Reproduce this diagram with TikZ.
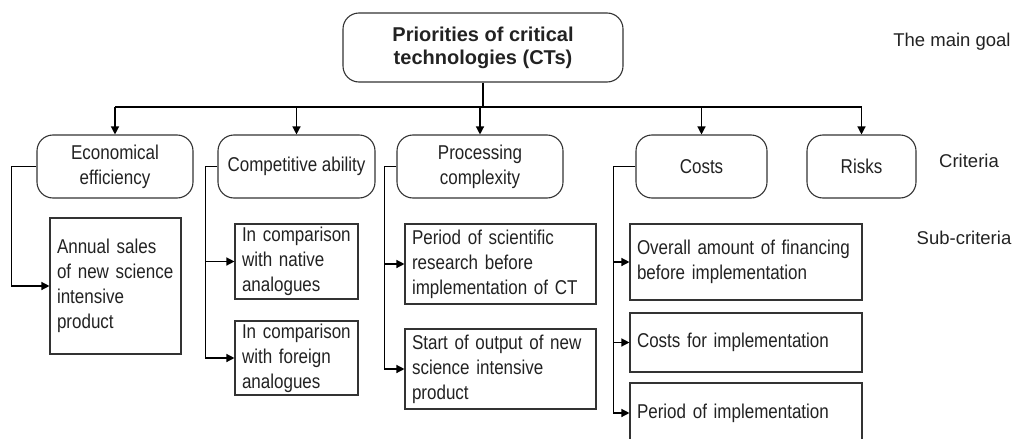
\documentclass[tikz,border=0pt]{standalone}
\usepackage{fontspec}
\setmainfont{Liberation Sans}[FakeStretch=0.85]
\newfontfamily\plainsans{Liberation Sans}
\usetikzlibrary{arrows.meta}
\definecolor{ink}{HTML}{222222}
\definecolor{edge}{HTML}{333333}
\tikzset{
  crit/.style={draw=edge, line width=1.1pt, rounded corners=16pt, align=center,
    text=ink, font=\fontsize{20}{25}\selectfont, inner sep=0pt, minimum height=63pt},
  goalbox/.style={crit, font=\plainsans\bfseries\fontsize{20}{23}\selectfont},
  subbox/.style={draw=edge, line width=1.1pt, align=left, text=ink,
    font=\fontsize{20}{25}\selectfont, inner xsep=7pt, inner ysep=0pt},
  levellabel/.style={text=ink, font=\plainsans\fontsize{18.5}{22}\selectfont, inner sep=0pt},
  conn/.style={draw=black, line width=1.3pt},
  arr/.style={conn, -{Triangle[length=8pt,width=8pt]}}
}
\begin{document}
\begin{tikzpicture}[x=1pt,y=-1pt]
\useasboundingbox (0,0) rectangle (1018,439);
\clip (0,0) rectangle (1018,439);

% main goal and criteria
\node[goalbox, minimum width=280pt, minimum height=69pt] (goal) at (483,47.5)
  {Priorities of critical\\technologies (CTs)};
\node[crit, minimum width=156pt] (eco) at (115,166.5) {Economical\\efficiency};
\node[crit, minimum width=157pt] (comp) at (296.5,166.5) {Competitive ability};
\node[crit, minimum width=166pt] (proc) at (480,166.5) {Processing\\complexity};
\node[crit, minimum width=131pt] (costs) at (701.5,166.5) {Costs};
\node[crit, minimum width=109pt] (risks) at (861.5,166.5) {Risks};

% level labels
\node[levellabel] (lgoal) at (952,42) {The main goal};
\node[levellabel] (lcrit) at (969,161) {Criteria};
\node[levellabel] (lsub) at (964,238) {Sub-criteria};

% sub-criteria
\node[subbox, minimum width=131pt, minimum height=136pt, text width=117pt] (annual) at (115.5,286)
  {Annual sales\\of new science\\intensive\\product};
\node[subbox, minimum width=123pt, minimum height=75pt, text width=109pt] (native) at (296.5,261.5)
  {In comparison\\with native\\analogues};
\node[subbox, minimum width=123pt, minimum height=74pt, text width=109pt] (foreign) at (296.5,358)
  {In comparison\\with foreign\\analogues};
\node[subbox, minimum width=191pt, minimum height=80pt, text width=177pt] (period) at (500.5,264)
  {Period of scientific\\research before\\implementation of CT};
\node[subbox, minimum width=191pt, minimum height=80pt, text width=177pt] (start) at (500.5,369)
  {Start of output of new\\science intensive\\product};
\node[subbox, minimum width=232pt, minimum height=76pt, text width=218pt] (overall) at (746,262)
  {Overall amount of financing\\before implementation};
\node[subbox, minimum width=232pt, minimum height=59pt, text width=218pt] (costimp) at (746,342.5)
  {Costs for implementation};
\node[subbox, minimum width=232pt, minimum height=60pt, text width=218pt] (periodimp) at (746,413)
  {Period of implementation};

% bus from the goal to the criteria
\coordinate (bus) at (0,107);
\draw[conn] (goal.south) -- (goal.south |- bus);
\draw[conn] (eco.north |- bus) -- (risks.north |- bus);
\foreach \c in {eco,comp,proc,costs,risks}
  \draw[arr] (\c.north |- bus) -- (\c.north);

% criteria to sub-criteria
\draw[arr] (eco.west) -- ++(-25,0) |- (annual.west);
\draw[arr] (comp.west) -- ++(-12,0) |- (native.west);
\draw[arr] (comp.west) -- ++(-12,0) |- (foreign.west);
\draw[arr] (proc.west) -- ++(-12,0) |- (period.west);
\draw[arr] (proc.west) -- ++(-12,0) |- (start.west);
\draw[arr] (costs.west) -- ++(-22,0) |- (overall.west);
\draw[arr] (costs.west) -- ++(-22,0) |- (costimp.west);
\draw[arr] (costs.west) -- ++(-22,0) |- (periodimp.west);
\end{tikzpicture}
\end{document}
